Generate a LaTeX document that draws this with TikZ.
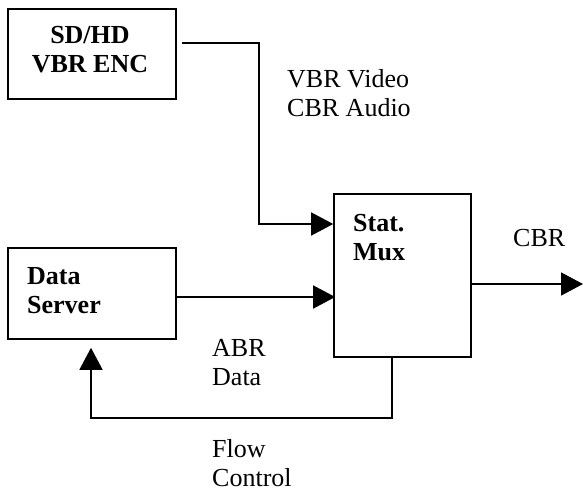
\documentclass[tikz,border=0pt]{standalone}
\usepackage{fontspec}
\setmainfont{Liberation Serif}
\usetikzlibrary{arrows.meta}

\tikzset{
  box/.style={draw, line width=1.6pt, inner sep=0pt},
  lbl/.style={inner sep=0pt, anchor=base west, font=\fontsize{26}{29}\selectfont},
  blbl/.style={lbl, font=\fontsize{26}{29.5}\selectfont\bfseries},
  wire/.style={line width=1.5pt},
  arr/.style={wire, -{Triangle[length=22pt,width=23pt]}}
}

\begin{document}
\begin{tikzpicture}[x=1pt, y=-1pt]
  \useasboundingbox (0,0) rectangle (583,496);

  % blocks
  \node[box, minimum width=168pt, minimum height=90pt]  (enc)    at (92,54)      {};
  \node[box, minimum width=168pt, minimum height=91pt]  (server) at (92,293.5)   {};
  \node[box, minimum width=137pt, minimum height=163pt] (mux)    at (402.5,275.5) {};

  % block titles
  \node[blbl, anchor=base] (encT) at (90,43)
    {\begin{tabular}[t]{@{}c@{}}SD/HD\\VBR ENC\end{tabular}};
  \node[blbl] (serverT) at (27,284)
    {\begin{tabular}[t]{@{}l@{}}Data\\Server\end{tabular}};
  \node[blbl] (muxT) at (353,231)
    {\begin{tabular}[t]{@{}l@{}}Stat.\\Mux\end{tabular}};

  % signal labels
  \node[lbl] (vbr) at (287,87)
    {\begin{tabular}[t]{@{}l@{}}VBR Video\\CBR Audio\end{tabular}};
  \node[lbl] (abr) at (212,356)
    {\begin{tabular}[t]{@{}l@{}}ABR\\Data\end{tabular}};
  \node[lbl] (flow) at (212,457)
    {\begin{tabular}[t]{@{}l@{}}Flow\\Control\end{tabular}};
  \node[lbl] (cbr) at (513,246) {CBR};

  % output end
  \coordinate (out) at (583,284);

  % connectors
  \draw[arr] ([xshift=5pt,yshift=11pt]enc.east) -- ++(77,0)
             |- ([yshift=51.5pt]mux.west);
  \draw[arr] ([yshift=-3.5pt]server.east) -- ([xshift=2pt,yshift=-21.5pt]mux.west);
  \draw[arr] ([xshift=-2pt,yshift=-8.5pt]mux.east) -- (out);
  \draw[arr] ([xshift=-10.5pt]mux.south) -- ++(0,60)
             -| ([xshift=-1pt,yshift=-8pt]server.south);
\end{tikzpicture}
\end{document}
